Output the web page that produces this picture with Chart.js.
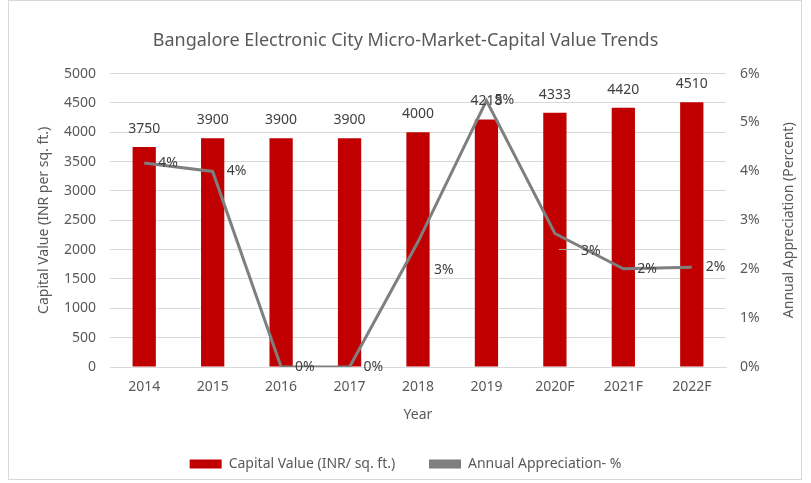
<!DOCTYPE html>
<html>
<head>
<meta charset="utf-8">
<script src="https://cdn.jsdelivr.net/npm/chart.js@4"></script>
<style>
  html, body { margin: 0; padding: 0; background: #fff; }
  #wrap { position: relative; width: 811px; height: 483px; }
  #frame { position: absolute; left: 8px; top: 0; width: 794px; height: 480px; border: 1px solid #d9d9d9; box-sizing: border-box; pointer-events: none; }
</style>
</head>
<body>
<div id="wrap">
  <canvas id="myChart" width="811" height="483"></canvas>
  <div id="frame"></div>
</div>
<script>
// data
const years = ['2014', '2015', '2016', '2017', '2018', '2019', '2020F', '2021F', '2022F'];
const capitalValue = [3750, 3900, 3900, 3900, 4000, 4218, 4333, 4420, 4510];
const appreciation = [4.17, 4.0, 0, 0, 2.56, 5.45, 2.73, 2.01, 2.04];
const appreciationLabels = ['4%', '4%', '0%', '0%', '3%', '5%', '3%', '2%', '2%'];

const grey = '#595959';
const font = 'Noto Sans, sans-serif';

// labels on bars and line points, plus the right axis title
const labelPlugin = {
    id: 'labels',
    afterDatasetsDraw(chart) {
        const c = chart.ctx;
        c.save();
        c.font = '14px ' + font;
        c.fillStyle = '#404040';
        // bar values
        chart.getDatasetMeta(0).data.forEach(function (bar, i) {
            c.textAlign = 'center';
            c.textBaseline = 'middle';
            c.fillText(String(capitalValue[i]), bar.x, bar.y - 18);
        });
        // line values, shown right of point
        const shiftY = [0, 0, 0, 0, 28, 0, 18, 0, 0];
        const shiftX = [14, 14, 14, 14, 16, 8, 26, 14, 14];
        chart.getDatasetMeta(1).data.forEach(function (pt, i) {
            c.textAlign = 'left';
            c.textBaseline = 'middle';
            c.fillText(appreciationLabels[i], pt.x + shiftX[i], pt.y + shiftY[i]);
        });
        // leader line for 2020F
        const p = chart.getDatasetMeta(1).data[6];
        c.strokeStyle = '#a6a6a6';
        c.lineWidth = 1;
        c.beginPath();
        c.moveTo(p.x + 4, p.y + 16);
        c.lineTo(p.x + 24, p.y + 16);
        c.stroke();

        // right axis title, reading bottom to top
        const a = chart.chartArea;
        c.fillStyle = grey;
        c.translate(789, (a.top + a.bottom) / 2);
        c.rotate(-Math.PI / 2);
        c.textAlign = 'center';
        c.textBaseline = 'middle';
        c.fillText('Annual Appreciation (Percent)', 0, 0);
        c.restore();
    }
};

const ctx = document.getElementById('myChart').getContext('2d');

const myChart = new Chart(ctx, {
    type: 'bar',
    data: {
        labels: years,
        datasets: [{
            type: 'bar',
            label: 'Capital Value (INR/ sq. ft.)',
            data: capitalValue,
            backgroundColor: '#c00000',
            borderWidth: 0,
            barPercentage: 0.5,
            categoryPercentage: 0.68,
            yAxisID: 'y',
            order: 2
        }, {
            type: 'line',
            label: 'Annual Appreciation- %',
            data: appreciation,
            borderColor: '#7f7f7f',
            backgroundColor: '#7f7f7f',
            borderWidth: 3,
            pointRadius: 0,
            tension: 0,
            yAxisID: 'y1',
            order: 1
        }]
    },
    options: {
        responsive: false,
        animation: false,
        layout: { padding: { left: 8, right: 8, top: 26, bottom: 2 } },
        scales: {
            x: {
                grid: { display: false },
                border: { color: '#d9d9d9' },
                ticks: { color: grey, font: { family: font, size: 14 }, padding: 4 },
                title: { display: true, text: 'Year', color: grey, font: { family: font, size: 14 }, padding: { top: 4, bottom: 22 } },
                afterFit: function (s) { s.height = 78; }
            },
            y: {
                position: 'left',
                min: 0,
                max: 5000,
                ticks: { stepSize: 500, color: grey, font: { family: font, size: 14 }, padding: 14, callback: function (v) { return String(v); } },
                grid: { color: '#d9d9d9', drawTicks: false },
                border: { display: false },
                title: { display: true, text: 'Capital Value (INR per sq. ft.)', color: grey, font: { family: font, size: 14 }, padding: { top: 28, bottom: 0 } },
                afterFit: function (s) { s.width = 102; }
            },
            y1: {
                position: 'right',
                min: 0,
                max: 6,
                ticks: { stepSize: 1, color: grey, font: { family: font, size: 14 }, padding: 14, callback: function (v) { return v + '%'; } },
                grid: { display: false, drawTicks: false },
                border: { display: false },
                afterFit: function (s) { s.width = 77; }
            }
        },
        plugins: {
            title: {
                display: true,
                text: 'Bangalore Electronic City Micro-Market-Capital Value Trends',
                color: grey,
                font: { family: font, size: 18, weight: 'normal' },
                padding: { top: 4, bottom: 22 }
            },
            legend: {
                position: 'bottom',
                labels: {
                    color: grey,
                    font: { family: font, size: 14 },
                    boxWidth: 32,
                    boxHeight: 9,
                    padding: 12,
                    generateLabels: function (chart) {
                        return chart.data.datasets.map(function (d, i) {
                            return {
                                text: i === 0 ? d.label + '      ' : d.label,
                                fillStyle: i === 0 ? '#c00000' : '#7f7f7f',
                                strokeStyle: i === 0 ? '#c00000' : '#7f7f7f',
                                lineWidth: 0,
                                fontColor: grey,
                                datasetIndex: i
                            };
                        });
                    }
                }
            },
            tooltip: { enabled: false }
        }
    },
    plugins: [labelPlugin]
});
</script>
</body>
</html>
